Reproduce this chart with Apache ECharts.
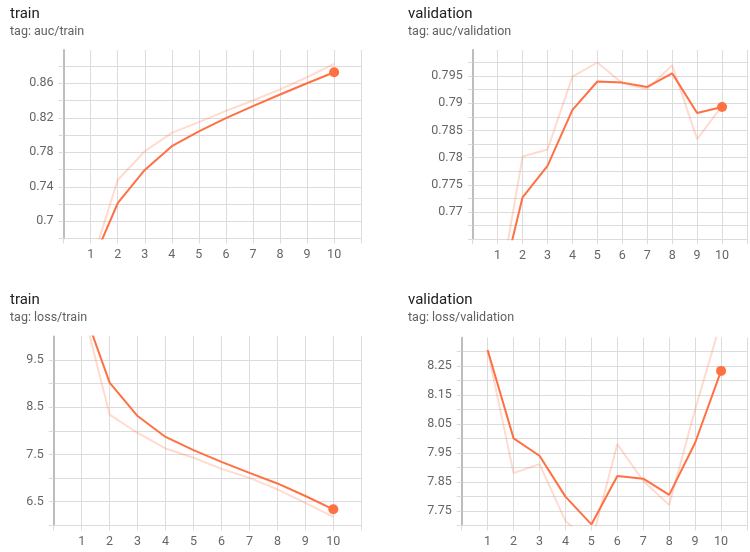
<!DOCTYPE html>
<html>
<head>
<meta charset="utf-8">
<script src="https://cdn.jsdelivr.net/npm/echarts@6/dist/echarts.min.js"></script>
<style>
  html, body { margin: 0; padding: 0; background: #fff; }
  #chart { width: 750px; height: 552px; }
</style>
</head>
<body>
<div id="chart"></div>
<script>
// Training run scalars: one point per epoch (steps 1..10).
const steps = [1, 2, 3, 4, 5, 6, 7, 8, 9, 10];
const xTickLabels = ['1', '2', '3', '4', '5', '6', '7', '8', '9', '10'];

// auc/train
const aucTrainRaw      = [0.648, 0.7478, 0.7812, 0.8025, 0.8150, 0.8280, 0.8400, 0.8530, 0.8670, 0.8824];
const aucTrainSmoothed = [0.648, 0.7209, 0.7595, 0.7870, 0.8043, 0.8195, 0.8335, 0.8470, 0.8600, 0.8728];

// auc/validation
const aucValRaw      = [0.7537, 0.7802, 0.7815, 0.7949, 0.7975, 0.7937, 0.7926, 0.7970, 0.7834, 0.7895];
const aucValSmoothed = [0.7537, 0.7727, 0.7785, 0.7888, 0.7940, 0.7938, 0.7930, 0.7955, 0.7882, 0.7893];

// loss/train
const lossTrainRaw      = [10.68, 8.345, 7.955, 7.627, 7.430, 7.195, 7.005, 6.760, 6.475, 6.180];
const lossTrainSmoothed = [10.68, 9.020, 8.314, 7.871, 7.591, 7.343, 7.110, 6.886, 6.620, 6.339];

// loss/validation
const lossValRaw      = [8.305, 7.880, 7.911, 7.715, 7.640, 7.980, 7.853, 7.770, 8.100, 8.405];
const lossValSmoothed = [8.305, 8.000, 7.940, 7.799, 7.703, 7.870, 7.861, 7.805, 7.985, 8.233];

// Labelled y ticks per panel (grid lines fall at half these steps)
const aucTrainTicks  = [0.7, 0.74, 0.78, 0.82, 0.86];
const aucValTicks    = [0.77, 0.775, 0.78, 0.785, 0.79, 0.795];
const lossTrainTicks = [6.5, 7.5, 8.5, 9.5];
const lossValTicks   = [7.75, 7.85, 7.95, 8.05, 8.15, 8.25];

const ORANGE = '#ff7043';
const FONT = 'Roboto, "Noto Sans", sans-serif';

const panels = [
  { title: 'train', tag: 'tag: auc/train', raw: aucTrainRaw, smooth: aucTrainSmoothed, ticks: aucTrainTicks,
    grid: { left: 63.6, top: 50, width: 297.6, height: 188.5 }, yMin: 0.68, yMax: 0.8986, step: 0.02, titleX: 10, titleY: 7 },
  { title: 'validation', tag: 'tag: auc/validation', raw: aucValRaw, smooth: aucValSmoothed, ticks: aucValTicks,
    grid: { left: 472.7, top: 50, width: 286.6, height: 189.2 }, yMin: 0.765, yMax: 0.7998, step: 0.0025, titleX: 408, titleY: 7 },
  { title: 'train', tag: 'tag: loss/train', raw: lossTrainRaw, smooth: lossTrainSmoothed, ticks: lossTrainTicks,
    grid: { left: 53.7, top: 336.4, width: 307.6, height: 188.9 }, yMin: 6, yMax: 10, step: 0.5, titleX: 10, titleY: 293 },
  { title: 'validation', tag: 'tag: loss/validation', raw: lossValRaw, smooth: lossValSmoothed, ticks: lossValTicks,
    grid: { left: 461.7, top: 337.7, width: 297, height: 187.6 }, yMin: 7.70, yMax: 8.3476, step: 0.05, titleX: 408, titleY: 293 }
];

const grids = [], xAxes = [], yAxes = [], series = [], titles = [];

panels.forEach((p, i) => {
  grids.push(Object.assign({ containLabel: false }, p.grid));

  titles.push({
    text: p.title,
    subtext: p.tag,
    left: p.titleX,
    top: p.titleY,
    padding: 0,
    itemGap: 3,
    textStyle: { fontFamily: FONT, fontSize: 15, fontWeight: 'normal', color: '#212121' },
    subtextStyle: { fontFamily: FONT, fontSize: 12.5, color: '#616161' }
  });

  xAxes.push({
    type: 'value', gridIndex: i, min: 0, max: 11, interval: 1,
    axisLine: { show: true, onZero: false, lineStyle: { color: '#dcdcdc', width: 1 } },
    axisTick: { show: true, length: 5, lineStyle: { color: '#dcdcdc' } },
    splitLine: { show: true, lineStyle: { color: '#dcdcdc', width: 1 } },
    axisLabel: {
      margin: 10, fontFamily: FONT, fontSize: 12.5, color: '#666666',
      formatter: v => (v >= 1 && v <= 10) ? xTickLabels[v - 1] : ''
    }
  });

  // one colour per tick, the last (top edge) left blank
  const nTicks = Math.floor((p.yMax - p.yMin) / p.step + 1e-6) + 1;
  const extra = Math.abs(p.yMin + (nTicks - 1) * p.step - p.yMax) > 1e-6 ? 1 : 0;
  const lineColors = [];
  for (let k = 0; k < nTicks + extra; k++) lineColors.push(k === nTicks + extra - 1 ? 'rgba(0,0,0,0)' : '#dcdcdc');

  yAxes.push({
    type: 'value', gridIndex: i, min: p.yMin, max: p.yMax, interval: p.step,
    axisLine: { show: true, onZero: false, lineStyle: { color: '#bdbdbd', width: 2 } },
    axisTick: { show: true, length: 5, lineStyle: { color: '#dcdcdc' } },
    splitLine: { show: true, showMaxLine: false, lineStyle: { color: lineColors, width: 1 } },
    axisLabel: {
      margin: 10, fontFamily: FONT, fontSize: 12.5, color: '#666666',
      showMaxLabel: false,
      formatter: v => {
        const hit = p.ticks.find(t => Math.abs(t - v) < p.step / 10);
        return hit !== undefined ? String(hit) : '';
      }
    }
  });

  series.push({
    type: 'line', xAxisIndex: i, yAxisIndex: i, clip: true,
    data: steps.map((s, k) => [s, p.raw[k]]),
    showSymbol: false, symbol: 'none', silent: true,
    lineStyle: { color: ORANGE, width: 2, opacity: 0.25 },
    z: 3
  });

  series.push({
    type: 'line', xAxisIndex: i, yAxisIndex: i, clip: true,
    data: steps.map((s, k) => (k === steps.length - 1)
      ? { value: [s, p.smooth[k]], symbol: 'circle', symbolSize: 10 }
      : { value: [s, p.smooth[k]], symbol: 'none' }),
    showSymbol: true, silent: true,
    itemStyle: { color: ORANGE },
    lineStyle: { color: ORANGE, width: 2 },
    z: 4
  });
});

const chart = echarts.init(document.getElementById('chart'), null, { renderer: 'canvas' });
chart.setOption({
  animation: false,
  backgroundColor: '#ffffff',
  title: titles,
  grid: grids,
  xAxis: xAxes,
  yAxis: yAxes,
  series: series
});
</script>
</body>
</html>
